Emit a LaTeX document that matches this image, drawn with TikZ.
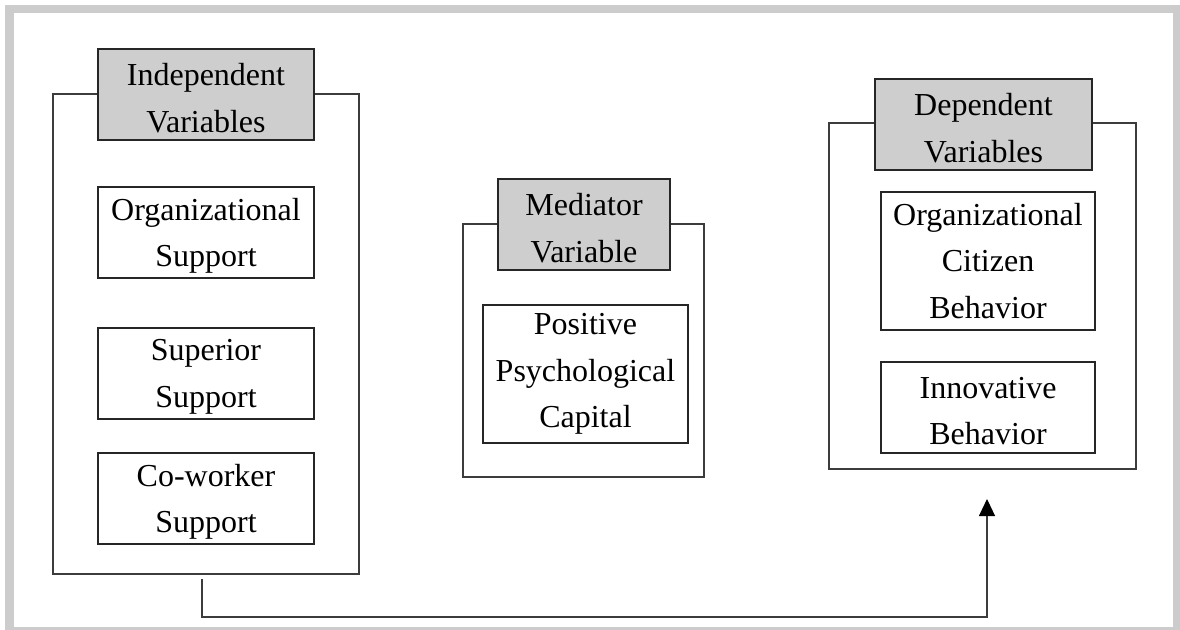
\documentclass[tikz,border=0pt]{standalone}
\usepackage{fontspec}
\setmainfont{Liberation Serif}
\usetikzlibrary{arrows.meta}
\definecolor{framegray}{RGB}{204,204,204}
\definecolor{headgray}{RGB}{206,206,206}
\definecolor{linegray}{RGB}{60,60,60}
\begin{document}
\begin{tikzpicture}[x=0.75pt,y=-0.75pt,
  box/.style 2 args={draw=linegray, line width=0.8pt, inner sep=0pt,
    minimum width=#1*0.75pt, minimum height=#2*0.75pt},
  group/.style 2 args={box={#1}{#2}},
  header/.style 2 args={box={#1}{#2}, fill=headgray, draw=black!85, line width=1pt},
  inner/.style 2 args={box={#1}{#2}, draw=black!85, fill=white},
  txt/.style={inner sep=0pt, align=center, font=\fontsize{24}{35}\selectfont},
  txttwo/.style={txt, yshift=-2.6pt},
  link/.style={draw=linegray, line width=0.8pt}
]
\useasboundingbox (0,0) rectangle (1180,630);
\fill[white] (0,0) rectangle (1180,630);
\fill[framegray] (5,5) rectangle (1180,630);
\fill[white] (14,13) rectangle (1173,627);

% left group
\node[group={306}{480}] (ivbox) at (206,334) {};
\node[header={216}{91}] (ivhead) at (206,94.5) {};
\node[txttwo] (ivheadtext) at (ivhead.center) {Independent\\Variables};
\node[inner={216}{91}] (org) at (206,232.5) {};
\node[txttwo] (orgtext) at (org.center) {Organizational\\Support};
\node[inner={216}{91}] (sup) at (206,373.5) {};
\node[txttwo] (suptext) at (sup.center) {Superior\\Support};
\node[inner={216}{91}] (cow) at (206,498.5) {};
\node[txttwo] (cowtext) at (cow.center) {Co-worker\\Support};

% middle group
\node[group={241}{253}] (mvbox) at (583.5,350.5) {};
\node[header={172}{91}] (mvhead) at (584,224.5) {};
\node[txttwo] (mvheadtext) at (mvhead.center) {Mediator\\Variable};
\node[inner={205}{138}] (ppc) at (585.5,374) {};
\node[txt] (ppctext) at (ppc.center) {Positive\\Psychological\\Capital};

% right group
\node[group={307}{346}] (dvbox) at (982.5,296) {};
\node[header={217}{91}] (dvhead) at (983.5,124.5) {};
\node[txttwo] (dvheadtext) at (dvhead.center) {Dependent\\Variables};
\node[inner={214}{138}] (ocb) at (988,261) {};
\node[txt] (ocbtext) at (ocb.center) {Organizational\\Citizen\\Behavior};
\node[inner={214}{91}] (inn) at (988,407.5) {};
\node[txttwo] (inntext) at (inn.center) {Innovative\\Behavior};

% connector
\coordinate (cstart) at (202,579);
\coordinate (cend) at (987,499);
\draw[link, -{Triangle[width=12pt,length=12.75pt,color=black]}] (cstart) -- (cstart |- 0,617) -- (cend |- 0,617) -- (cend);
\end{tikzpicture}
\end{document}
